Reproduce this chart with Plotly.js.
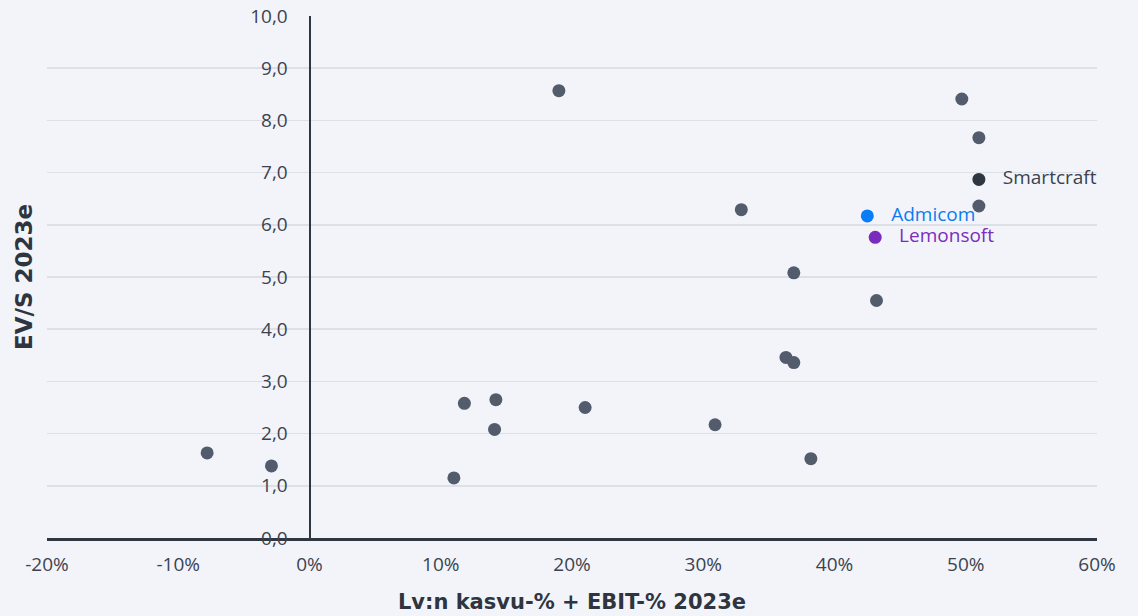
<!DOCTYPE html>
<html>
<head>
<meta charset="utf-8">
<script src="https://cdn.plot.ly/plotly-3.0.1.min.js"></script>
<style>
html,body{margin:0;padding:0;background:#f3f4f9;}
#chart{width:1138px;height:616px;}
</style>
</head>
<body>
<div id="chart"></div>
<script>
// Peer group (unnamed)
const peerX = [-7.8, -2.9, 11.0, 11.8, 14.2, 14.1, 19.0, 21.0, 30.9, 32.9, 36.3, 36.9, 36.9, 38.2, 43.2, 49.7, 51.0, 51.0];
const peerY = [1.63, 1.38, 1.15, 2.58, 2.65, 2.08, 8.57, 2.50, 2.17, 6.29, 3.46, 3.36, 5.08, 1.52, 4.55, 8.41, 7.67, 6.36];

// Highlighted companies
const namedLabels = ["Smartcraft", "Admicom", "Lemonsoft"];
const namedX = [51.0, 42.5, 43.1];
const namedY = [6.87, 6.17, 5.76];
const namedColors = ["#2d3641", "#0a7cf5", "#7a2dbd"];

const xTickVals = [-20, -10, 0, 10, 20, 30, 40, 50, 60];
const xTickText = ["-20%", "-10%", "0%", "10%", "20%", "30%", "40%", "50%", "60%"];
const yTickVals = [0, 1, 2, 3, 4, 5, 6, 7, 8, 9, 10];
const yTickText = ["0,0", "1,0", "2,0", "3,0", "4,0", "5,0", "6,0", "7,0", "8,0", "9,0", "10,0"];

const xTitle = "Lv:n kasvu-% + EBIT-% 2023e";
const yTitle = "EV/S 2023e";

const font = "'Open Sans', Lato, sans-serif";
const titleFont = "'DejaVu Sans', 'Open Sans', sans-serif";

const traces = [
  {
    type: "scatter", mode: "markers",
    x: peerX, y: peerY,
    marker: {size: 13, color: "#525c6c"},
    hoverinfo: "x+y", showlegend: false
  }
];
namedLabels.forEach((name, i) => {
  traces.push({
    type: "scatter", mode: "markers+text",
    x: [namedX[i]], y: [namedY[i]],
    text: ["   " + name],
    textposition: "middle right",
    textfont: {family: font, size: 19, color: i === 0 ? "#3a424e" : namedColors[i]},
    marker: {size: 13, color: namedColors[i]},
    showlegend: false
  });
});

const layout = {
  width: 1138, height: 616,
  paper_bgcolor: "#f3f4f9", plot_bgcolor: "#f3f4f9",
  margin: {l: 47, r: 41, t: 16, b: 78},
  font: {family: font, size: 19, color: "#3b4350"},
  showlegend: false,
  xaxis: {
    range: [-20, 60],
    tickvals: xTickVals, ticktext: xTickText,
    showgrid: false, zeroline: false,
    showline: true, linecolor: "#2e3641", linewidth: 2.5,
    ticks: "", ticklabelstandoff: 8,
    tickfont: {family: font, size: 19, color: "#3b4350"},
    title: {text: xTitle, standoff: 18, font: {family: titleFont, size: 21, color: "#2e3540", weight: "bold"}}
  },
  yaxis: {
    range: [0, 10],
    anchor: "free", position: 0.25,
    tickvals: yTickVals, ticktext: yTickText,
    showgrid: true, gridcolor: "#dde1e7", gridwidth: 1.5,
    zeroline: false,
    showline: true, linecolor: "#2e3641", linewidth: 2,
    ticks: "", ticklabelstandoff: 17,
    tickfont: {family: font, size: 19, color: "#3b4350"}
  },
  annotations: [
    {
      text: yTitle, xref: "paper", yref: "paper",
      x: -0.022, y: 0.50, xanchor: "center", yanchor: "middle",
      textangle: -90, showarrow: false,
      font: {family: titleFont, size: 23, color: "#2e3540", weight: "bold"}
    }
  ]
};

Plotly.newPlot("chart", traces, layout, {displayModeBar: false, staticPlot: true});
</script>
</body>
</html>
